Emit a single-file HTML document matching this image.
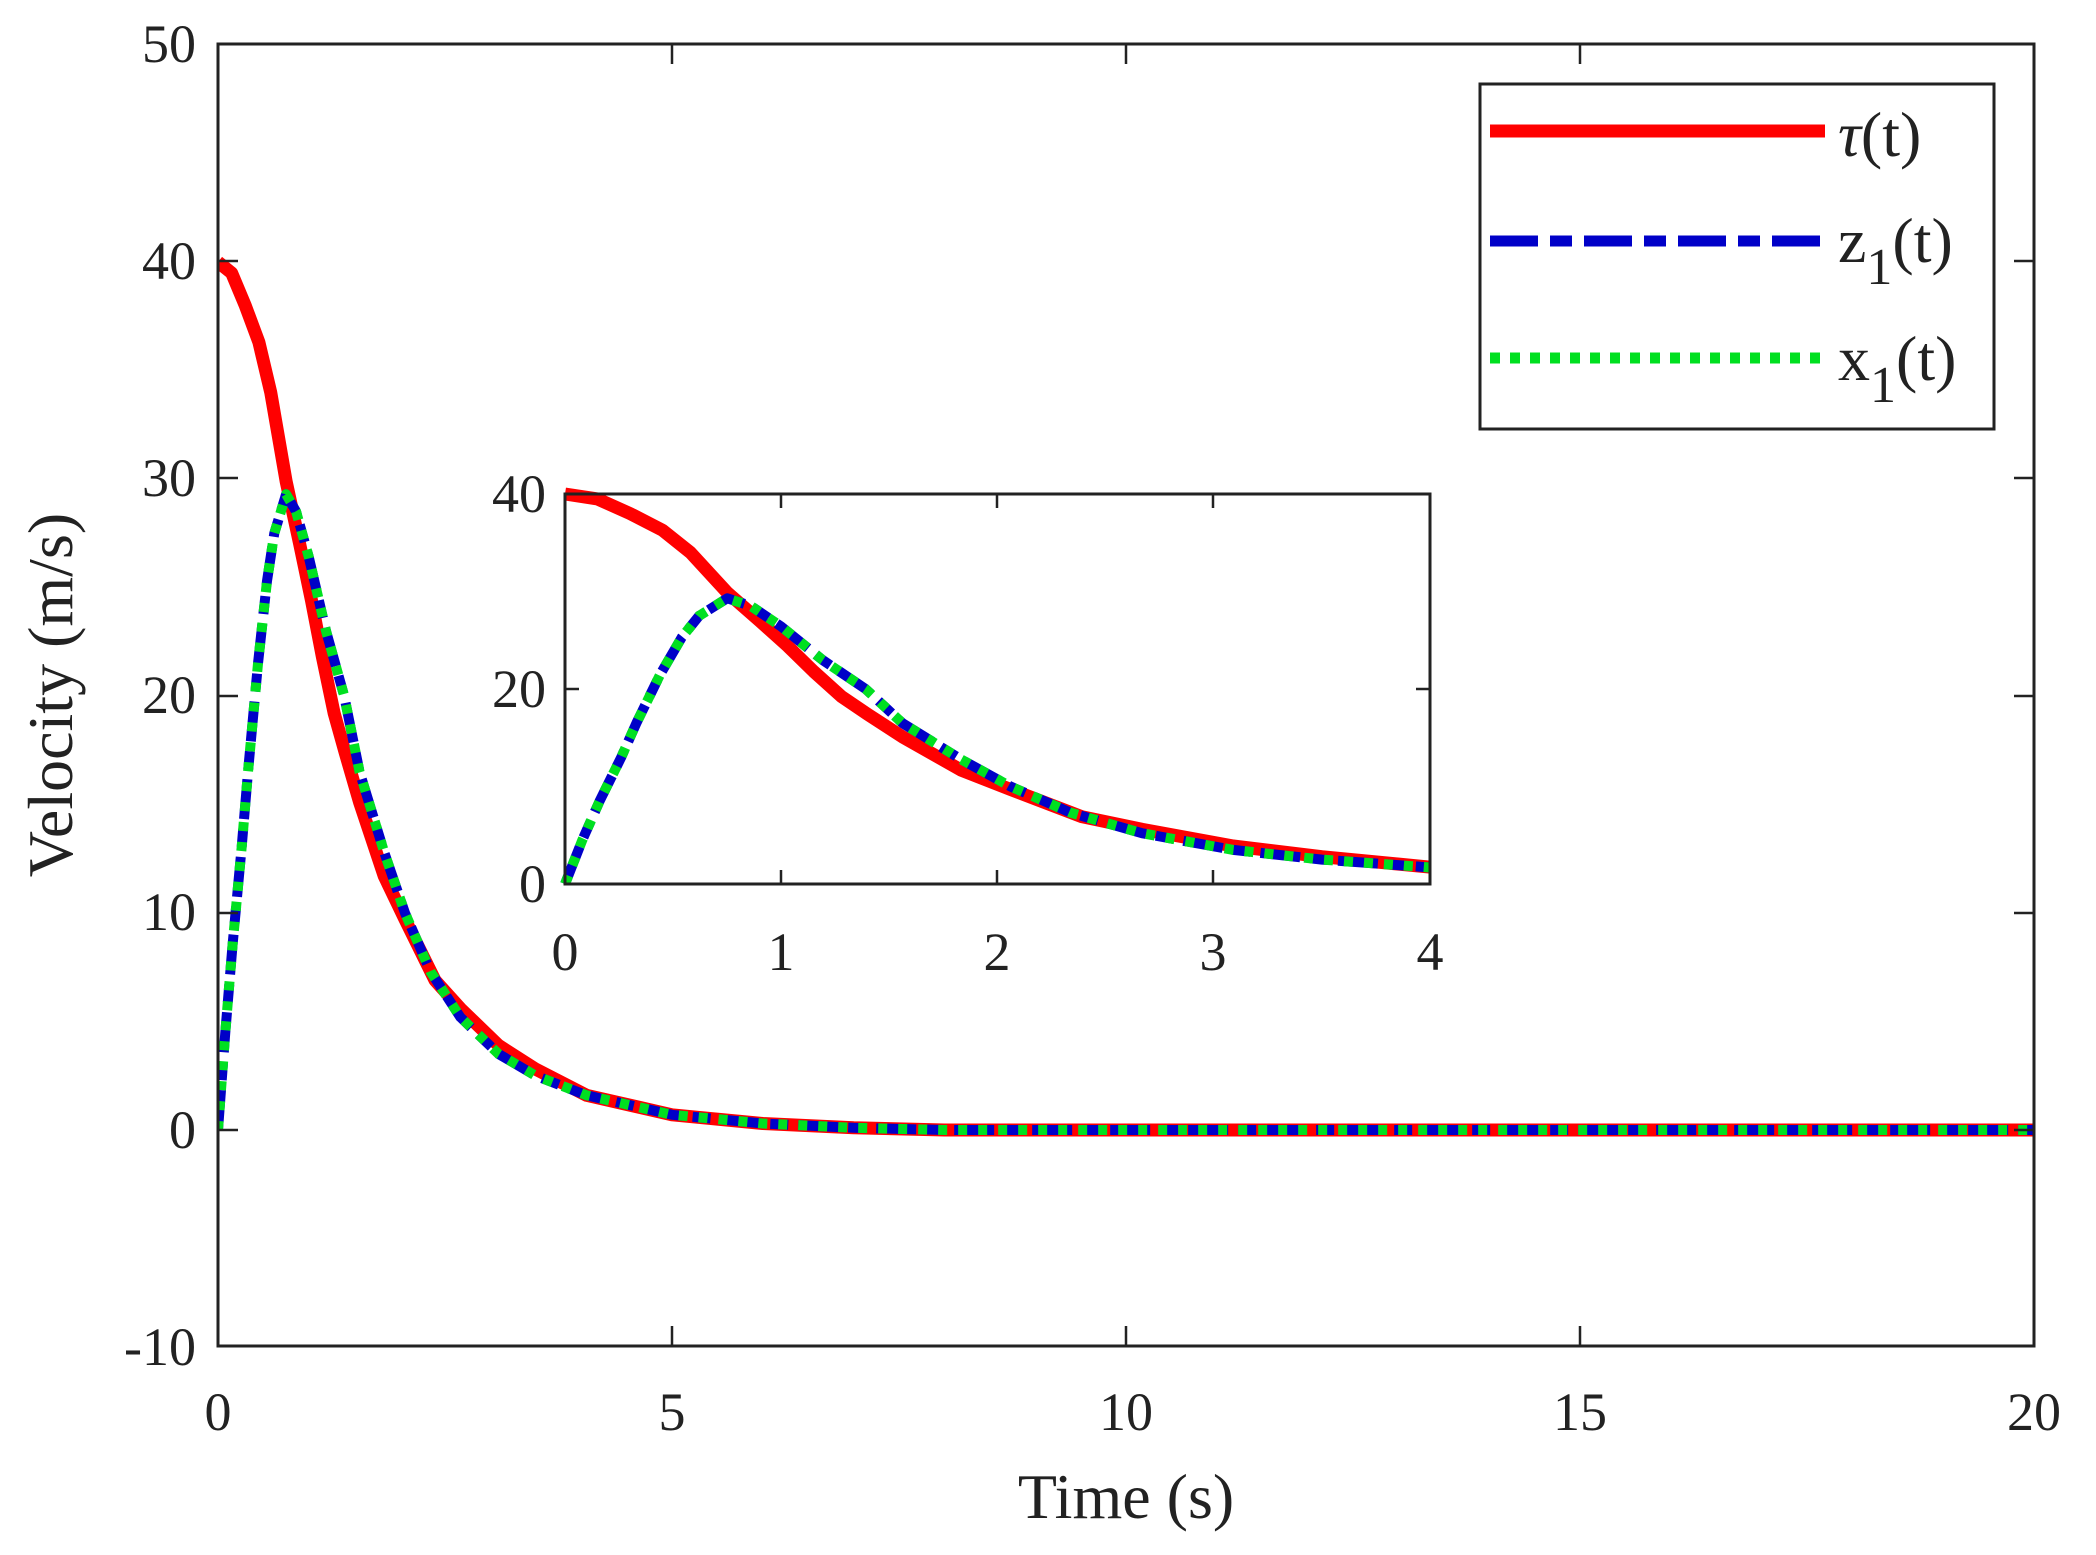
<!DOCTYPE html>
<html><head><meta charset="utf-8"><style>
html,body{margin:0;padding:0;background:#fff;}
svg{display:block;}
text{font-family:"Liberation Serif",serif;fill:#222;}
</style></head><body>
<svg width="2096" height="1555" viewBox="0 0 2096 1555" xmlns="http://www.w3.org/2000/svg">
<defs>
<clipPath id="cm"><rect x="218" y="44" width="1816" height="1302"/></clipPath>
<clipPath id="ci"><rect x="555" y="480" width="875" height="404"/></clipPath>
</defs>
<g clip-path="url(#cm)" fill="none" stroke-linejoin="round">
<polyline stroke="#ff0000" stroke-width="13" points="218,262 231.6,272.9 245.2,305.4 258.9,342.3 270.7,392.2 286.1,481.2 299.7,544.1 311.5,600.5 322.4,657 334.2,713.4 345.1,752.4 359.6,802.3 384.2,876.1 405,919.5 435,980.3 460.4,1008.5 498.6,1045.4 535.8,1069.2 586.6,1095.3 672,1114.8 762.8,1123.5 853.6,1127.8 944.4,1130 2034,1130"/>
<polyline stroke="#0000c8" stroke-width="10" stroke-dasharray="40,10,18,10" points="218,1130 225.3,1032.4 232.5,945.6 241.6,847.9 248,772 258,663.5 267,581 274.3,533.3 286.1,494.2 296.1,511.6 308.8,557.1 326,630.9 344.2,696 359.6,772 384.2,852.2 405,913 430.5,971.6 460.4,1017.2 498.6,1054 535.8,1075.8 586.6,1095.3 672,1114.8 762.8,1123.5 853.6,1127.8 944.4,1130 2034,1130"/>
<polyline stroke="#00e020" stroke-width="10" stroke-dasharray="9,11" points="218,1130 225.3,1032.4 232.5,945.6 241.6,847.9 248,772 258,663.5 267,581 274.3,533.3 286.1,494.2 296.1,511.6 308.8,557.1 326,630.9 344.2,696 359.6,772 384.2,852.2 405,913 430.5,971.6 460.4,1017.2 498.6,1054 535.8,1075.8 586.6,1095.3 672,1114.8 762.8,1123.5 853.6,1127.8 944.4,1130 2034,1130"/>
</g>
<g clip-path="url(#ci)" fill="none" stroke-linejoin="round">
<polyline stroke="#ff0000" stroke-width="13" points="565,494 597.4,498.9 629.9,513.5 662.3,530.1 690.4,552.5 727.2,592.5 759.6,620.8 787.7,646.1 813.7,671.5 841.8,696.8 867.8,714.4 902.4,736.8 960.7,769.9 1010.5,789.4 1081.8,816.7 1142.4,829.4 1233.2,846 1321.9,856.7 1443,868.4"/>
<polyline stroke="#0000c8" stroke-width="10" stroke-dasharray="40,10,18,10" points="565,884 582.3,840.1 599.6,801.1 621.2,757.3 636.4,723.1 660.2,674.4 681.8,637.3 699.1,615.9 727.2,598.3 751,606.1 781.3,626.6 822.3,659.8 865.6,689 902.4,723.1 960.7,759.2 1010.5,786.5 1071,812.8 1142.4,833.3 1233.2,849.9 1321.9,859.6 1443,868.4"/>
<polyline stroke="#00e020" stroke-width="10" stroke-dasharray="9,11" points="565,884 582.3,840.1 599.6,801.1 621.2,757.3 636.4,723.1 660.2,674.4 681.8,637.3 699.1,615.9 727.2,598.3 751,606.1 781.3,626.6 822.3,659.8 865.6,689 902.4,723.1 960.7,759.2 1010.5,786.5 1071,812.8 1142.4,833.3 1233.2,849.9 1321.9,859.6 1443,868.4"/>
</g>
<rect x="218" y="44" width="1816" height="1302" fill="none" stroke="#222" stroke-width="3"/>
<g stroke="#222" stroke-width="2.5">
<line x1="672" y1="1346" x2="672" y2="1326"/><line x1="1126" y1="1346" x2="1126" y2="1326"/><line x1="1580" y1="1346" x2="1580" y2="1326"/>
<line x1="672" y1="44" x2="672" y2="64"/><line x1="1126" y1="44" x2="1126" y2="64"/><line x1="1580" y1="44" x2="1580" y2="64"/>
<line x1="218" y1="261" x2="238" y2="261"/><line x1="218" y1="478" x2="238" y2="478"/><line x1="218" y1="696" x2="238" y2="696"/><line x1="218" y1="913" x2="238" y2="913"/><line x1="218" y1="1130" x2="238" y2="1130"/>
<line x1="2034" y1="261" x2="2014" y2="261"/><line x1="2034" y1="478" x2="2014" y2="478"/><line x1="2034" y1="696" x2="2014" y2="696"/><line x1="2034" y1="913" x2="2014" y2="913"/><line x1="2034" y1="1130" x2="2014" y2="1130"/>
<line x1="781" y1="884" x2="781" y2="870"/><line x1="997" y1="884" x2="997" y2="870"/><line x1="1213" y1="884" x2="1213" y2="870"/>
<line x1="781" y1="494" x2="781" y2="508"/><line x1="997" y1="494" x2="997" y2="508"/><line x1="1213" y1="494" x2="1213" y2="508"/>
<line x1="565" y1="689" x2="579" y2="689"/><line x1="1430" y1="689" x2="1416" y2="689"/>
</g>
<g font-size="54" text-anchor="end">
<text x="196" y="62">50</text><text x="196" y="279">40</text><text x="196" y="496">30</text>
<text x="196" y="713">20</text><text x="196" y="930">10</text><text x="196" y="1148">0</text>
<text x="196" y="1365">-10</text>
</g>
<g font-size="54" text-anchor="middle">
<text x="218" y="1430">0</text><text x="672" y="1430">5</text><text x="1126" y="1430">10</text>
<text x="1580" y="1430">15</text><text x="2034" y="1430">20</text>
</g>
<text x="1126" y="1518" font-size="64" text-anchor="middle">Time (s)</text>
<text transform="translate(72,695) rotate(-90)" font-size="64" text-anchor="middle">Velocity (m/s)</text>
<rect x="565" y="494" width="865" height="390" fill="none" stroke="#222" stroke-width="3"/>
<g font-size="54" text-anchor="end">
<text x="546" y="512">40</text><text x="546" y="707">20</text><text x="546" y="902">0</text>
</g>
<g font-size="54" text-anchor="middle">
<text x="565" y="970">0</text><text x="781" y="970">1</text><text x="997" y="970">2</text>
<text x="1213" y="970">3</text><text x="1430" y="970">4</text>
</g>
<rect x="1480" y="84" width="514" height="345" fill="#fff" stroke="#222" stroke-width="3"/>
<line x1="1490" y1="131" x2="1825" y2="131" stroke="#ff0000" stroke-width="13"/>
<line x1="1490" y1="241" x2="1825" y2="241" stroke="#0000c8" stroke-width="11" stroke-dasharray="48,12,22,12"/>
<line x1="1490" y1="358" x2="1825" y2="358" stroke="#00e020" stroke-width="11" stroke-dasharray="10,10"/>
<text x="1838" y="156" font-size="64"><tspan font-style="italic">τ</tspan>(t)</text>
<text x="1838" y="262" font-size="64">z<tspan font-size="52" dy="22">1</tspan><tspan dy="-22">(t)</tspan></text>
<text x="1838" y="380" font-size="64">x<tspan font-size="52" dy="22">1</tspan><tspan dy="-22">(t)</tspan></text>
</svg>
</body></html>
